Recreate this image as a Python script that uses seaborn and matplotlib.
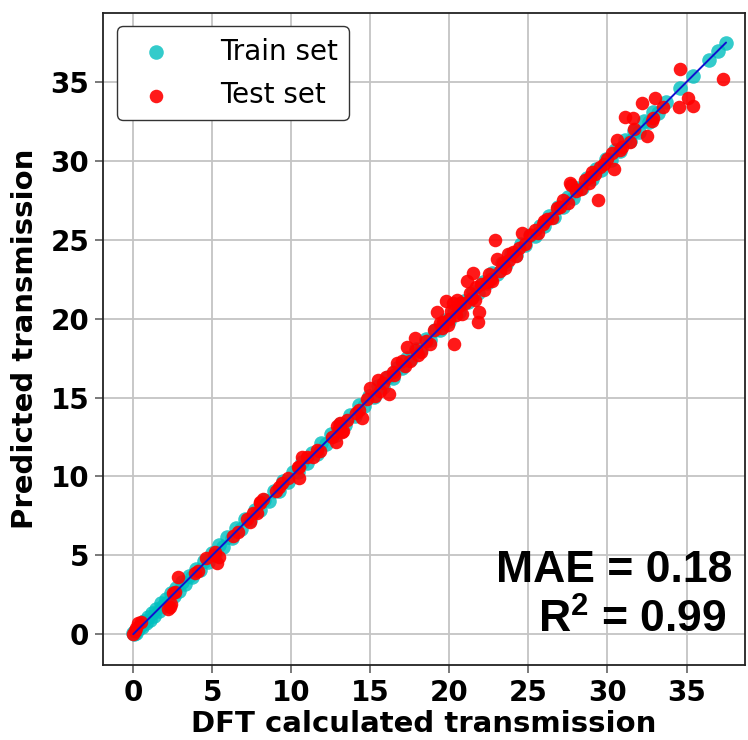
import matplotlib
matplotlib.use("Agg")
import matplotlib.pyplot as plt
import seaborn as sns
import pandas as pd

# Training set: DFT vs predicted transmission
train_x = [0.0, 0.05, 0.12, 0.2, 0.31, 0.42, 0.55, 0.68, 0.8, 0.93,
           1.05, 1.18, 1.3, 1.46, 1.6, 1.75, 1.9, 2.05, 2.2, 2.38,
           2.55, 2.7, 2.9, 3.1, 3.3, 3.5, 3.72, 3.95, 4.2, 4.45,
           4.7, 4.95, 5.2, 5.45, 5.7, 5.95, 6.25, 6.5, 6.8, 7.1,
           7.4, 7.7, 8.0, 8.3, 8.6, 8.9, 9.2, 9.5, 9.8, 10.1,
           10.4, 10.7, 11.0, 11.3, 11.6, 11.9, 12.2, 12.5, 12.8, 13.1,
           13.4, 13.7, 14.0, 14.3, 14.6, 14.9, 15.2, 15.5, 15.8, 16.1,
           16.4, 16.7, 17.0, 17.3, 17.6, 17.9, 18.2, 18.5, 18.8, 19.1,
           19.4, 19.7, 20.0, 20.3, 20.6, 20.9, 21.2, 21.5, 21.8, 22.1,
           22.4, 22.7, 23.0, 23.3, 23.6, 23.9, 24.2, 24.5, 24.8, 25.1,
           25.4, 25.7, 26.0, 26.3, 26.6, 26.9, 27.2, 27.5, 27.8, 28.1,
           28.4, 28.7, 29.0, 29.3, 29.6, 29.9, 30.2, 30.5, 30.8, 31.1,
           31.4, 31.7, 32.0, 32.3, 32.6, 32.9, 33.2, 33.7, 34.6, 35.4,
           36.4, 37.0, 37.5]
train_y = [0.05, 0.0, 0.2, 0.05, 0.35, 0.5, 0.45, 0.85, 0.7, 1.1,
           0.9, 1.35, 1.15, 1.6, 1.45, 1.95, 1.8, 2.25, 2.05, 2.6,
           2.4, 2.9, 2.75, 3.3, 3.15, 3.7, 3.6, 4.15, 4.05, 4.65,
           4.55, 5.15, 5.05, 5.65, 5.55, 6.15, 6.1, 6.7, 6.65, 7.3,
           7.25, 7.9, 7.85, 8.5, 8.45, 9.1, 9.05, 9.7, 9.65, 10.3,
           10.25, 10.9, 10.85, 11.5, 11.45, 12.1, 12.05, 12.7, 12.65, 13.3,
           13.25, 13.9, 13.85, 14.5, 14.45, 15.1, 15.05, 15.7, 15.65, 16.3,
           16.25, 16.9, 16.85, 17.5, 17.45, 18.1, 18.05, 18.7, 18.65, 19.3,
           19.25, 19.9, 19.85, 20.5, 20.45, 21.1, 21.05, 21.7, 21.65, 22.3,
           22.25, 22.9, 22.85, 23.5, 23.45, 24.1, 24.05, 24.7, 24.65, 25.3,
           25.25, 25.9, 25.85, 26.5, 26.45, 27.1, 27.05, 27.7, 27.65, 28.3,
           28.25, 28.9, 28.85, 29.5, 29.45, 30.1, 30.05, 30.7, 30.65, 31.3,
           31.25, 31.9, 31.85, 32.5, 32.45, 33.1, 33.05, 33.75, 34.6, 35.35,
           36.4, 36.95, 37.5]

# Test set: DFT vs predicted transmission
test_x = [0.0, 0.1, 0.3, 0.5, 0.2, 2.3, 2.2, 2.4, 2.65, 2.8,
          2.5, 3.9, 4.1, 5.3, 5.2, 5.4, 5.1, 6.3, 7.4, 7.2,
          7.6, 7.8, 8.0, 8.0, 8.2, 9.2, 9.0, 9.4, 10.5, 10.4,
          10.5, 10.7, 11.4, 11.6, 11.8, 12.8, 12.6, 13.1, 13.0, 13.3,
          13.5, 14.5, 14.3, 14.8, 15.0, 15.5, 15.3, 16.2, 15.8, 16.0,
          16.7, 16.5, 17.3, 17.2, 17.5, 17.8, 17.9, 18.2, 18.5, 18.8,
          19.0, 19.2, 19.5, 19.8, 19.6, 19.9, 20.0, 20.3, 20.1, 20.2,
          20.4, 20.6, 20.5, 20.8, 21.0, 21.1, 21.5, 21.3, 21.6, 21.8,
          21.9, 21.7, 22.0, 22.2, 22.5, 22.4, 22.7, 22.9, 23.0, 23.2,
          23.4, 23.7, 23.8, 24.0, 24.2, 24.6, 24.4, 24.8, 25.4, 25.1,
          25.6, 25.9, 26.2, 26.5, 26.8, 27.2, 27.0, 27.7, 27.6, 27.5,
          28.0, 28.3, 28.6, 28.9, 29.2, 29.4, 29.5, 29.8, 30.0, 30.4,
          30.3, 30.6, 30.8, 31.1, 31.6, 31.7, 31.4, 32.5, 32.8, 32.2,
          33.0, 32.9, 34.5, 35.1, 35.4, 34.6, 37.3, 33.5, 12.9, 13.2,
          14.1, 15.6, 16.4, 17.0, 18.0, 19.4, 20.7, 21.4, 22.6, 23.5,
          26.0, 28.8, 29.0, 30.9, 9.8, 11.0, 6.6, 4.6]
test_y = [0.0, 0.2, 0.7, 0.8, 0.4, 1.7, 1.6, 1.9, 2.7, 3.6,
          2.6, 3.9, 4.0, 4.5, 5.2, 4.9, 5.0, 6.2, 7.1, 7.3,
          7.7, 7.7, 8.3, 8.4, 8.6, 9.3, 9.1, 9.6, 9.9, 10.6,
          10.6, 11.2, 11.2, 11.7, 11.6, 12.2, 12.5, 13.4, 13.1, 12.9,
          13.6, 13.7, 14.2, 14.9, 15.6, 16.1, 15.1, 15.2, 15.9, 16.3,
          17.2, 16.4, 18.2, 17.0, 17.3, 18.8, 18.0, 17.9, 18.6, 18.4,
          19.3, 20.4, 19.4, 21.1, 19.8, 19.6, 20.0, 18.4, 20.5, 21.0,
          20.2, 20.8, 21.2, 20.3, 21.0, 22.4, 22.9, 21.6, 21.2, 19.8,
          20.4, 22.0, 22.2, 21.8, 22.8, 22.3, 22.4, 25.0, 23.8, 23.0,
          23.5, 24.1, 23.7, 24.2, 24.0, 25.4, 24.5, 24.7, 25.6, 25.3,
          25.4, 26.0, 26.3, 26.4, 27.0, 27.5, 27.1, 28.5, 28.6, 27.3,
          28.1, 28.2, 28.8, 29.0, 29.2, 27.5, 29.6, 29.8, 30.1, 29.5,
          30.5, 31.3, 30.7, 32.8, 32.7, 32.0, 31.2, 31.6, 32.5, 33.7,
          34.0, 32.7, 33.4, 34.0, 33.5, 35.8, 35.2, 33.4, 13.2, 12.8,
          14.0, 15.4, 16.6, 17.3, 17.7, 19.7, 21.0, 21.3, 22.5, 23.2,
          26.2, 28.6, 29.3, 30.9, 9.9, 11.2, 6.5, 4.8]

mae_text = "MAE = 0.18"
r2_text = "R$^{2}$ = 0.99"
ticks = [0, 5, 10, 15, 20, 25, 30, 35]

sns.set_style("whitegrid")
plt.rcParams["font.family"] = ["DejaVu Sans"]
plt.rcParams["text.color"] = "black"
plt.rcParams["axes.labelcolor"] = "black"
plt.rcParams["xtick.color"] = "black"
plt.rcParams["ytick.color"] = "black"
plt.rcParams["mathtext.fontset"] = "custom"
plt.rcParams["mathtext.rm"] = "Liberation Sans:bold"
plt.rcParams["mathtext.it"] = "Liberation Sans:bold"
plt.rcParams["mathtext.bf"] = "Liberation Sans:bold"

train = pd.DataFrame({"dft": train_x, "pred": train_y})
test = pd.DataFrame({"dft": test_x, "pred": test_y})

fig = plt.figure(figsize=(7.48, 7.40), dpi=100)
ax = fig.add_axes([0.138, 0.101, 0.858, 0.882])

sns.scatterplot(data=train, x="dft", y="pred", ax=ax, color="c", alpha=0.8,
                s=110, linewidth=0, label="Train set", zorder=2)
sns.scatterplot(data=test, x="dft", y="pred", ax=ax, color="red", alpha=0.9,
                s=95, linewidth=0, label="Test set", zorder=3)
lo, hi = min(train_x), max(train_x)
ax.plot([lo, hi], [lo, hi], color="#1010d0", lw=1.4, zorder=4)

ax.set_xlim(-1.9, 38.7)
ax.set_ylim(-1.97, 39.4)
ax.set_xticks(ticks)
ax.set_yticks(ticks)
ax.grid(True, color="#c4c4c4", lw=1.3)
for sp in ax.spines.values():
    sp.set_color("#222222")
    sp.set_linewidth(1.3)
ax.tick_params(axis="both", which="major", direction="out", length=6, width=1.1,
               color="#555555", labelsize=20, bottom=True, left=True, pad=4)
for lab in ax.get_xticklabels() + ax.get_yticklabels():
    lab.set_fontweight("bold")

ax.set_xlabel("DFT calculated transmission", fontsize=21, fontweight="bold", labelpad=2)
ax.set_ylabel("Predicted transmission", fontsize=21, fontweight="bold", labelpad=8)

leg = ax.legend(loc="upper left", fontsize=20, frameon=True, handletextpad=1.3,
                borderpad=0.4, labelspacing=0.55, markerscale=1.0,
                bbox_to_anchor=(0.0, 1.0))
leg.get_frame().set_edgecolor("#333333")
leg.get_frame().set_linewidth(1.0)
leg.get_frame().set_alpha(1.0)

ax.text(0.981, 0.127, mae_text, transform=ax.transAxes, ha="right", va="baseline",
        fontsize=32, fontweight="bold", family="Liberation Sans", zorder=6)
ax.text(0.972, 0.05, r2_text, transform=ax.transAxes, ha="right", va="baseline",
        fontsize=32, fontweight="bold", family="Liberation Sans", zorder=6)

fig.savefig("out.png", dpi=100)
